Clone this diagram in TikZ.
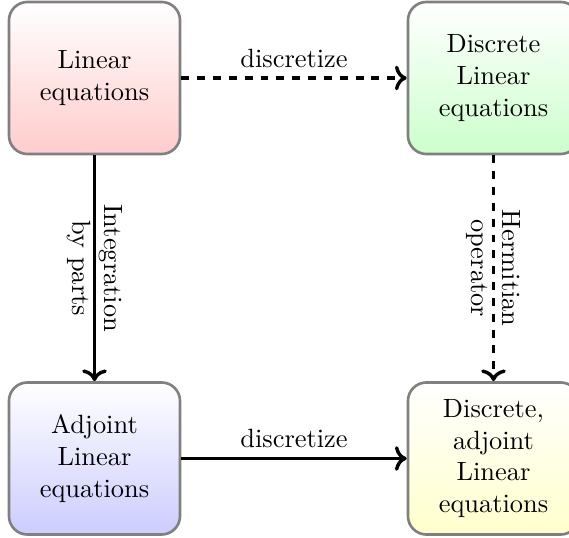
\documentclass[tikz,border=0pt]{standalone}
\usetikzlibrary{arrows.meta}
\begin{document}
\begin{tikzpicture}[x=0.3788pt,y=-0.3788pt,
  box/.style={draw=black!50, line width=1pt, rounded corners=7pt,
    minimum width=64.8pt, minimum height=57.6pt, align=center, inner sep=0pt},
  conn/.style={line width=1.3pt, ->},
  vlab/.style={midway, rotate=-90, align=center}]
\useasboundingbox (0,0) rectangle (569,538);
\node[box, top color=white, bottom color=red!20] (lin) at (94.5,78) {Linear\\equations};
\node[box, top color=white, bottom color=green!20] (dlin) at (493.5,78) {Discrete\\Linear\\equations};
\node[box, top color=white, bottom color=blue!20] (adj) at (94.5,458.5) {Adjoint\\Linear\\equations};
\node[box, top color=white, bottom color=yellow!20] (dadj) at (493.5,458.5) {Discrete,\\adjoint\\Linear\\equations};
\draw[conn, dashed] (lin) -- node[above] {discretize} (dlin);
\draw[conn] (lin) -- node[vlab] {Integration\\by parts} (adj);
\draw[conn, dashed] (dlin) -- node[vlab] {Hermitian\\operator} (dadj);
\draw[conn] (adj) -- node[above] {discretize} (dadj);
\end{tikzpicture}
\end{document}
